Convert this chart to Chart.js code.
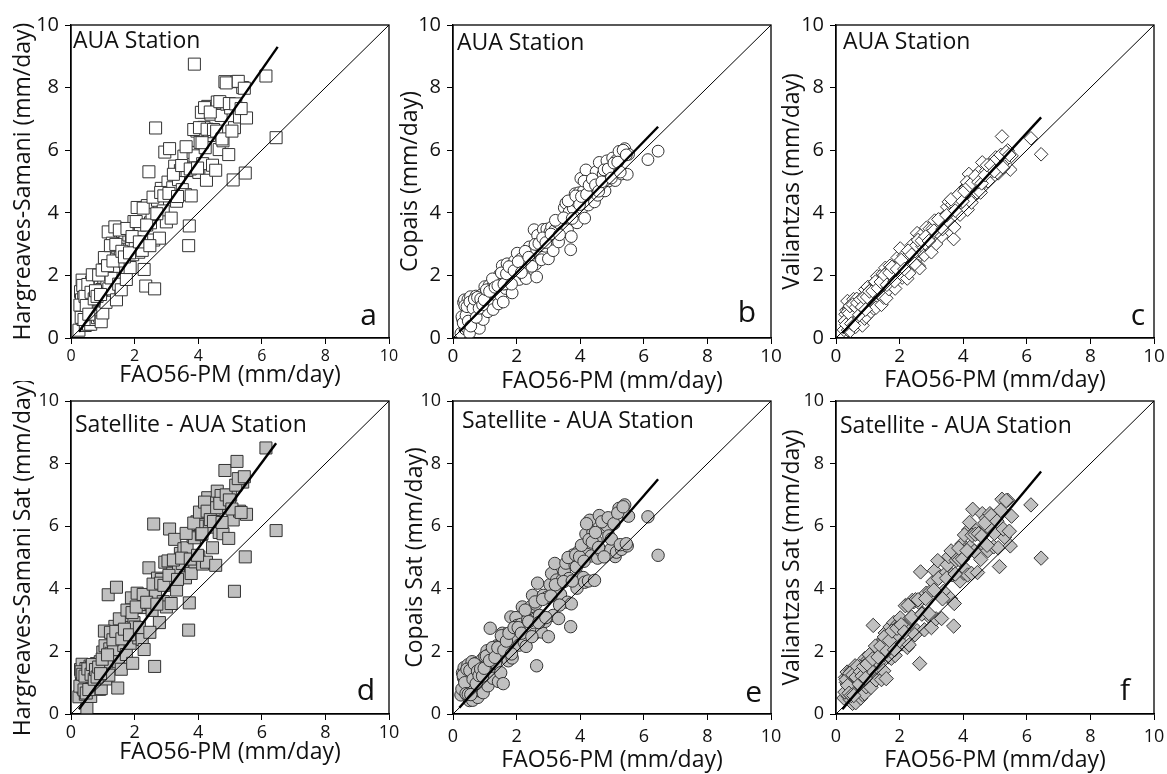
<!DOCTYPE html>
<html>
<head>
<meta charset="utf-8">
<script src="https://cdn.jsdelivr.net/npm/chart.js@4.4.1/dist/chart.umd.min.js"></script>
<style>
  html, body { margin: 0; padding: 0; background: #fff; overflow: hidden; }
  body { width: 1167px; height: 774px; position: relative; }
  .panel { position: absolute; width: 409px; height: 393px; }
</style>
</head>
<body>
<script>
// FAO56-PM reference values (x), shared by all six panels
const fao56 = [
  0.25, 0.30, 0.33, 0.35, 0.36, 0.38, 0.40, 0.42, 0.45, 0.47, 0.50, 0.52, 0.55, 0.57, 0.58, 0.60,
  0.62, 0.65, 0.68, 0.70, 0.72, 0.75, 0.78, 0.80, 0.83, 0.85, 0.88, 0.90, 0.92, 0.95, 0.97, 1.00,
  1.03, 1.07, 1.10, 1.13, 1.17, 1.19, 1.22, 1.26, 1.30, 1.34, 1.38, 1.43, 1.47, 1.50, 1.55, 1.58,
  1.62, 1.66, 1.70, 1.74, 1.78, 1.82, 1.86, 1.90, 1.94, 1.98,
  2.02, 2.08, 2.13, 2.18, 2.24, 2.30, 2.35, 2.40, 2.45, 2.50, 2.55, 2.60, 2.63, 2.66, 2.72, 2.78,
  2.84, 2.90, 2.95, 3.00,
  3.05, 3.10, 3.15, 3.20, 3.26, 3.32, 3.38, 3.44, 3.50, 3.55, 3.60, 3.65, 3.70, 3.72, 3.78, 3.84,
  3.88, 3.90, 3.96,
  4.02, 4.06, 4.10, 4.14, 4.18, 4.22, 4.26, 4.30, 4.35, 4.40, 4.45, 4.50, 4.55, 4.60, 4.66, 4.72,
  4.78, 4.84, 4.90, 4.96, 5.02, 5.10, 5.14, 5.22, 5.30, 5.40, 5.48, 5.52,
  6.13, 6.45,
  0.28, 0.32, 0.37, 0.41, 0.44, 0.48, 0.53, 0.56, 0.63, 0.67, 0.73, 0.77, 0.82, 0.87, 0.93, 0.98,
  1.05, 1.15, 1.24, 1.32, 1.41, 1.52, 1.60, 1.68, 1.76, 1.84, 1.92,
  2.05, 2.15, 2.27, 2.38, 2.48, 2.58, 2.70, 2.82, 2.92,
  3.08, 3.22, 3.35, 3.48, 3.62, 3.75, 3.86, 3.98,
  4.04, 4.12, 4.20, 4.28, 4.38, 4.48, 4.58, 4.68, 4.75, 4.88, 4.98, 5.06, 5.18, 5.26, 5.35, 5.45
];

// estimated method values (y), same order as fao56
const hsStation = [
  0.25, 1.48, 1.22, 1.85, 0.86, 0.59, 1.42, 1.05, 0.40, 1.62, 0.97, 1.40, 0.44, 1.57, 0.88, 1.21,
  0.44, 1.79, 1.13, 1.46, 0.59, 1.73, 1.18, 1.90, 0.65, 1.58, 1.22, 0.70, 1.88, 0.52, 1.55, 0.80,
  1.94, 2.40, 1.14, 1.79, 3.39, 1.57, 2.32, 1.92, 3.03, 2.29, 3.55, 1.22, 2.88, 1.72, 2.60, 1.54,
  3.40, 2.46, 3.22, 1.87, 2.73, 3.29, 2.25, 3.11, 2.66, 3.72,
  3.08, 4.17, 2.74, 3.61, 2.80, 2.19, 1.66, 4.23, 5.31, 3.68, 3.95, 3.13, 1.57, 6.71, 4.40, 3.19,
  4.78, 4.06, 5.94, 3.71,
  4.98, 6.05, 3.83, 4.80, 5.49, 4.37, 5.06, 5.35, 4.74, 5.81, 4.58, 5.35, 2.95, 3.58, 4.54, 5.93,
  8.75, 5.82, 6.61,
  5.29, 6.25, 7.21, 5.57, 6.73, 6.08, 5.04, 7.40, 6.47, 7.15, 5.52, 6.59, 5.36, 7.54, 6.02, 7.11,
  6.30, 8.19, 7.47, 5.86, 7.35, 5.05, 6.72, 8.19, 7.06, 8.00, 5.27, 7.03,
  8.37, 6.40,
  1.05, 0.66, 1.68, 0.59, 1.33, 1.04, 1.71, 0.76, 1.46, 2.02, 1.25, 1.51, 1.33, 2.01, 1.39, 2.17,
  2.57, 2.31, 2.95, 2.46, 2.99, 3.45, 2.77, 2.59, 3.50, 2.72, 3.24,
  3.72, 3.07, 4.15, 3.61, 2.95, 4.50, 3.97, 4.65, 4.54,
  4.62, 5.23, 4.52, 5.51, 6.11, 5.40, 6.66, 5.43,
  6.72, 6.24, 7.36, 6.67, 7.22, 6.66, 6.61, 7.55, 6.36, 8.15, 7.49, 6.61, 7.48, 8.20, 7.33, 7.98
];
const copaisStation = [
  0.15, 0.60, 1.14, 0.46, 1.22, 0.29, 1.01, 0.68, 0.31, 1.23, 1.06, 0.16, 1.32, 0.79, 1.00, 0.52,
  0.74, 1.17, 1.00, 0.57, 1.34, 0.98, 0.51, 1.23, 0.31, 1.08, 0.91, 0.63, 1.40, 0.59, 1.31, 1.64,
  1.17, 1.36, 0.84, 1.67, 1.42, 1.04, 1.62, 0.91, 1.80, 1.39, 1.74, 1.09, 2.03, 1.36, 2.31, 1.15,
  1.99, 1.58, 2.37, 1.71, 2.11, 2.30, 1.44, 2.18, 2.47, 2.06,
  2.71, 1.87, 2.52, 2.37, 1.99, 1.90, 2.75, 2.91, 2.76, 2.41, 3.46, 2.36, 1.95, 3.28, 2.94, 2.50,
  3.47, 2.93, 3.48, 2.53,
  3.39, 3.54, 2.79, 3.44, 3.71, 3.07, 3.63, 3.39, 4.16, 4.31, 3.46, 4.02, 2.82, 3.24, 4.15, 4.61,
  4.36, 3.68, 4.64,
  5.10, 4.14, 4.69, 3.83, 5.37, 4.61, 4.25, 5.00, 4.55, 4.90, 4.35, 5.31, 4.56, 5.61, 4.77, 5.24,
  4.70, 5.66, 5.02, 5.39, 5.75, 5.03, 5.68, 5.96, 5.24, 6.05, 5.23, 5.87,
  5.70, 5.97,
  0.68, 0.48, 1.03, 0.72, 1.00, 0.54, 1.15, 0.38, 0.95, 1.24, 0.66, 1.30, 0.95, 1.25, 1.06, 1.22,
  1.54, 1.49, 1.89, 1.62, 1.67, 2.08, 1.72, 2.05, 2.28, 1.72, 2.15,
  2.44, 2.09, 2.77, 2.58, 2.29, 2.99, 3.02, 3.20, 3.05,
  3.32, 3.76, 3.30, 3.84, 4.38, 3.82, 4.54, 4.26,
  4.52, 5.01, 4.59, 4.88, 5.08, 4.89, 4.69, 4.99, 5.37, 5.40, 5.11, 5.59, 5.62, 5.30, 6.00, 5.85
];
const valiantzasStation = [
  0.26, 0.76, 0.89, 0.52, 1.18, 0.25, 0.92, 0.69, 0.23, 1.05, 0.93, 0.60, 1.24, 0.76, 0.87, 0.64,
  0.36, 1.25, 0.88, 0.60, 1.02, 1.16, 0.54, 1.11, 0.40, 1.02, 0.80, 0.62, 1.55, 0.68, 1.25, 1.63,
  1.17, 1.46, 0.84, 1.58, 1.52, 0.94, 1.78, 0.97, 1.97, 1.41, 1.85, 1.06, 2.05, 1.29, 2.24, 1.27,
  2.12, 1.56, 2.31, 1.70, 2.10, 2.24, 1.58, 2.28, 2.57, 2.12,
  2.86, 1.93, 2.63, 2.54, 1.90, 2.07, 2.82, 2.98, 2.88, 2.49, 3.35, 2.30, 2.23, 3.27, 2.93, 2.65,
  3.52, 2.93, 3.49, 2.74,
  3.50, 3.75, 3.01, 3.46, 3.78, 3.25, 3.86, 3.58, 4.19, 4.35, 3.65, 4.26, 3.16, 3.54, 4.20, 4.57,
  4.61, 3.94, 4.70,
  4.57, 4.21, 4.81, 4.10, 5.24, 4.59, 4.33, 4.98, 4.83, 5.04, 4.64, 5.30, 4.65, 5.61, 4.97, 5.34,
  5.01, 5.57, 5.34, 5.61, 5.77, 5.26, 5.80, 6.44, 5.48, 5.99, 5.38, 5.82,
  6.38, 5.87,
  0.54, 0.43, 0.84, 0.78, 1.02, 0.46, 1.07, 0.40, 0.98, 1.12, 0.74, 1.23, 0.99, 1.29, 0.91, 1.31,
  1.49, 1.50, 1.80, 1.59, 1.79, 2.01, 1.70, 2.08, 2.27, 1.81, 2.20,
  2.49, 2.20, 2.79, 2.66, 2.37, 3.13, 3.11, 3.24, 3.10,
  3.43, 3.79, 3.48, 3.92, 4.43, 4.07, 4.59, 4.37,
  4.69, 4.98, 4.87, 4.96, 5.17, 4.98, 4.94, 5.20, 5.52, 5.52, 5.33, 5.72, 5.85, 5.44, 5.94, 5.85
];
const hsSat = [
  0.55, 1.42, 1.26, 1.59, 1.20, 0.83, 1.16, 1.04, 0.63, 1.45, 0.18, 1.22, 1.06, 1.19, 0.90, 1.53,
  0.56, 1.50, 1.14, 0.97, 1.50, 1.24, 0.88, 1.61, 0.80, 1.48, 1.12, 0.79, 1.67, 0.81, 1.44, 1.98,
  1.62, 2.18, 1.12, 1.66, 3.81, 1.24, 2.08, 1.94, 2.59, 2.05, 2.80, 4.05, 0.83, 1.67, 2.54, 1.43,
  2.63, 2.19, 2.94, 1.90, 3.15, 2.61, 2.26, 3.71, 1.62, 2.92,
  2.78, 3.86, 2.43, 3.40, 2.38, 2.06, 3.73, 3.50, 4.67, 3.54, 3.31, 6.07, 1.52, 3.86, 4.34, 2.92,
  4.30, 3.59, 4.85, 3.42,
  4.89, 5.91, 3.53, 4.50, 5.58, 3.96, 4.64, 5.13, 4.81, 5.28, 4.35, 5.31, 2.68, 3.55, 4.49, 5.67,
  5.63, 4.86, 6.14,
  5.02, 6.08, 5.73, 4.79, 6.44, 6.00, 4.85, 6.91, 5.97, 6.54, 5.31, 6.38, 4.75, 7.12, 5.80, 6.98,
  5.76, 7.78, 6.63, 5.61, 6.99, 6.20, 3.92, 8.07, 6.48, 7.41, 5.02, 6.38,
  8.50, 5.86,
  0.89, 1.35, 1.27, 0.77, 1.21, 0.67, 1.44, 0.78, 1.27, 1.58, 1.11, 1.42, 1.18, 1.50, 1.29, 1.75,
  2.65, 1.89, 2.61, 2.37, 2.64, 3.04, 2.40, 2.71, 3.32, 2.53, 3.24,
  3.42, 2.76, 3.82, 3.57, 2.61, 4.15, 3.51, 4.18, 4.11,
  4.43, 4.92, 4.30, 4.98, 5.77, 4.95, 6.10, 5.07,
  6.45, 5.76, 6.77, 6.48, 6.21, 6.15, 6.59, 6.73, 6.12, 7.00, 6.84, 6.55, 7.31, 7.52, 6.44, 7.58
];
const copaisSat = [
  0.61, 1.32, 1.16, 1.48, 1.09, 0.71, 1.34, 0.96, 0.60, 1.57, 0.90, 0.43, 1.41, 1.24, 0.95, 1.67,
  0.44, 1.33, 1.21, 0.69, 1.61, 1.15, 0.53, 1.20, 0.74, 1.51, 1.20, 0.72, 1.74, 0.68, 1.50, 1.84,
  1.47, 2.02, 0.90, 1.89, 2.74, 1.26, 1.89, 1.14, 2.09, 1.63, 2.18, 1.04, 2.19, 1.32, 2.58, 0.97,
  2.26, 1.81, 2.56, 1.70, 2.35, 3.10, 1.79, 2.39, 2.74, 3.08,
  2.83, 2.20, 2.86, 3.42, 2.29, 2.16, 3.01, 3.37, 3.43, 3.79, 2.55, 3.51, 1.54, 4.18, 3.15, 2.62,
  3.79, 2.96, 3.72, 2.47,
  4.13, 4.49, 3.15, 4.81, 4.28, 3.05, 3.82, 4.29, 4.56, 4.82, 3.57, 4.33, 2.79, 3.52, 5.08, 4.75,
  4.70, 4.02, 5.20,
  4.37, 5.21, 4.36, 4.21, 5.75, 5.10, 4.25, 6.19, 5.05, 5.81, 4.27, 5.53, 4.98, 6.34, 5.21, 5.98,
  5.15, 6.02, 5.69, 5.26, 6.23, 5.03, 5.17, 6.57, 5.26, 6.68, 5.37, 6.32,
  6.30, 5.07,
  0.80, 1.24, 1.00, 0.65, 1.43, 0.63, 1.39, 0.62, 1.11, 1.60, 0.97, 1.37, 1.23, 1.44, 1.21, 1.46,
  1.85, 1.71, 2.12, 1.81, 2.12, 2.50, 2.04, 2.33, 2.58, 1.92, 2.76,
  2.76, 2.58, 3.32, 2.95, 2.47, 3.58, 2.92, 3.66, 3.08,
  3.77, 4.13, 3.48, 4.23, 5.00, 4.25, 5.08, 5.02,
  5.39, 4.88, 6.08, 5.57, 5.49, 5.80, 5.32, 6.14, 5.02, 6.27, 5.59, 6.08, 6.42, 5.41, 6.62, 5.44
];
const valiantzasSat = [
  0.51, 1.17, 1.01, 1.34, 0.95, 0.57, 1.20, 0.87, 0.46, 1.38, 0.82, 0.34, 1.33, 1.10, 0.87, 1.54,
  0.36, 1.40, 1.04, 0.96, 1.39, 1.22, 0.51, 1.38, 0.62, 1.34, 0.98, 0.65, 1.78, 0.87, 1.39, 1.73,
  1.46, 1.91, 0.85, 1.78, 2.83, 1.16, 1.99, 1.09, 2.19, 1.64, 2.09, 1.10, 2.30, 1.38, 2.59, 1.13,
  2.28, 1.83, 2.78, 1.78, 2.37, 2.92, 1.87, 2.52, 2.87, 2.82,
  3.07, 2.24, 2.80, 3.46, 2.13, 2.21, 3.07, 3.63, 3.59, 3.65, 2.66, 3.57, 1.61, 4.54, 3.22, 2.69,
  3.86, 3.14, 3.90, 2.76,
  4.22, 4.58, 3.04, 4.90, 4.37, 3.05, 3.92, 4.49, 4.77, 5.03, 3.69, 4.45, 2.81, 3.53, 4.91, 4.98,
  4.93, 4.25, 5.43,
  4.50, 5.25, 4.60, 4.44, 5.89, 5.34, 4.49, 6.54, 5.20, 5.86, 4.52, 5.78, 4.94, 6.40, 5.38, 6.25,
  5.22, 6.40, 5.87, 5.34, 6.21, 5.31, 4.71, 6.86, 5.65, 6.83, 5.37, 6.32,
  6.68, 4.98,
  0.70, 1.10, 0.91, 0.66, 1.30, 0.59, 1.25, 0.59, 1.18, 1.52, 0.95, 1.35, 1.21, 1.52, 1.14, 1.60,
  1.89, 1.76, 2.17, 1.82, 2.17, 2.46, 2.01, 2.35, 2.65, 2.05, 2.74,
  2.85, 2.62, 3.47, 3.10, 2.53, 3.65, 3.19, 3.69, 3.21,
  3.96, 4.33, 3.68, 4.34, 5.21, 4.47, 5.30, 4.95,
  5.72, 5.22, 6.12, 5.71, 5.74, 5.76, 5.68, 6.10, 5.39, 6.34, 5.77, 6.16, 6.51, 5.91, 6.82, 5.84
];

// regression line end points [x0, y0, x1, y1]
const fitHsStation = [0.25, 0.20, 6.50, 9.30];
const fitCopaisStation = [0.20, 0.20, 6.45, 6.75];
const fitValiantzasStation = [0.20, 0.15, 6.45, 7.05];
const fitHsSat = [0.25, 0.15, 6.45, 8.65];
const fitCopaisSat = [0.20, 0.20, 6.45, 7.50];
const fitValiantzasSat = [0.20, 0.15, 6.45, 7.75];

// 1:1 line
const oneToOne = [0, 0, 10, 10];

const xTitle = 'FAO56-PM (mm/day)';

const panels = [
  { left: 71,  top: 25,  y: hsStation, fit: fitHsStation, yTitle: 'Hargreaves-Samani (mm/day)',
    station: 'AUA Station', letter: 'a', marker: 'rect', radius: 8.5, fill: '#ffffff',
    yTick: 20, xTick: 16, xPad: 3, xtp: 9, ytp: 10, sx: 2, sy: 23, lx: 12, ly: 13 },
  { left: 453, top: 25,  y: copaisStation, fit: fitCopaisStation, yTitle: 'Copais (mm/day)',
    station: 'AUA Station', letter: 'b', marker: 'circle', radius: 5.9, fill: '#ffffff',
    yTick: 20, xTick: 19, xPad: 1.5, xtp: 3, ytp: 15, sx: 4, sy: 25, lx: 15, ly: 16 },
  { left: 836, top: 25,  y: valiantzasStation, fit: fitValiantzasStation, yTitle: 'Valiantzas (mm/day)',
    station: 'AUA Station', letter: 'c', marker: 'rectRot', radius: 6.8, fill: '#ffffff',
    yTick: 20, xTick: 19, xPad: 1.5, xtp: 4, ytp: 14, sx: 7, sy: 24, lx: 9, ly: 13 },
  { left: 71,  top: 401, y: hsSat, fit: fitHsSat, yTitle: 'Hargreaves-Samani Sat (mm/day)',
    station: 'Satellite - AUA Station', letter: 'd', marker: 'rect', radius: 8.5, fill: '#c0c0c0',
    yTick: 18, xTick: 18, xPad: 2, xtp: 8, ytp: 10, sx: 4, sy: 31, lx: 14, ly: 14 },
  { left: 453, top: 401, y: copaisSat, fit: fitCopaisSat, yTitle: 'Copais Sat (mm/day)',
    station: 'Satellite - AUA Station', letter: 'e', marker: 'circle', radius: 6.2, fill: '#c0c0c0',
    yTick: 18, xTick: 18, xPad: 6, xtp: 0, ytp: 20, sx: 9, sy: 27, lx: 9, ly: 12 },
  { left: 836, top: 401, y: valiantzasSat, fit: fitValiantzasSat, yTitle: 'Valiantzas Sat (mm/day)',
    station: 'Satellite - AUA Station', letter: 'f', marker: 'rectRot', radius: 7.2, fill: '#c0c0c0',
    yTick: 18, xTick: 18, xPad: 6, xtp: 0, ytp: 14, sx: 4, sy: 32, lx: 24, ly: 14 }
];

const FONT = '"Open Sans", "Noto Sans", sans-serif';

// frame on all four sides + station label + panel letter
const panelText = {
  id: 'panelText',
  afterDatasetsDraw(chart, args, opts) {
    const { ctx, chartArea: a } = chart;
    ctx.save();
    ctx.strokeStyle = '#000';
    ctx.lineWidth = 1.3;
    ctx.strokeRect(a.left, a.top, a.right - a.left, a.bottom - a.top);
    ctx.fillStyle = '#111';
    ctx.textBaseline = 'alphabetic';
    ctx.font = '23px ' + FONT;
    ctx.textAlign = 'left';
    ctx.fillText(opts.station, a.left + opts.sx, a.top + opts.sy);
    ctx.font = '30px ' + FONT;
    ctx.textAlign = 'right';
    ctx.fillText(opts.letter, a.right - opts.lx, a.bottom - opts.ly);
    ctx.restore();
  }
};

function segment(arr) {
  return [{ x: arr[0], y: arr[1] }, { x: arr[2], y: arr[3] }];
}

function makePanel(p) {
  const div = document.createElement('div');
  div.className = 'panel';
  div.style.left = (p.left - 71) + 'px';
  div.style.top = (p.top - 20) + 'px';
  const canvas = document.createElement('canvas');
  div.appendChild(canvas);
  document.body.appendChild(div);

  const points = fao56.map((x, i) => ({ x, y: p.y[i] }));

  new Chart(canvas, {
    type: 'scatter',
    data: {
      datasets: [
        { data: segment(p.fit), showLine: true, borderColor: '#000', borderWidth: 2.4, pointRadius: 0 },
        { data: segment(oneToOne), showLine: true, borderColor: '#000', borderWidth: 1, pointRadius: 0 },
        { data: points, pointStyle: p.marker, pointRadius: p.radius, backgroundColor: p.fill,
          borderColor: '#333', borderWidth: 1 }
      ]
    },
    options: {
      responsive: true,
      maintainAspectRatio: false,
      animation: false,
      layout: { padding: { top: 20, right: 20, left: 0, bottom: 0 } },
      plugins: {
        legend: { display: false },
        tooltip: { enabled: false },
        panelText: { station: p.station, letter: p.letter, sx: p.sx, sy: p.sy, lx: p.lx, ly: p.ly }
      },
      scales: {
        x: {
          type: 'linear', min: 0, max: 10,
          afterFit: s => { s.height = 60; },
          border: { display: true, color: '#000', width: 1.3 },
          grid: { drawOnChartArea: false, drawTicks: true, tickLength: 6, color: '#000' },
          ticks: { stepSize: 2, autoSkip: false, maxRotation: 0, padding: p.xPad, color: '#111',
                   font: { family: FONT, size: p.xTick } },
          title: { display: true, text: xTitle, color: '#111', padding: { top: 0, bottom: p.xtp },
                   font: { family: FONT, size: 23 } }
        },
        y: {
          type: 'linear', min: 0, max: 10,
          afterFit: s => { s.width = 71; },
          border: { display: true, color: '#000', width: 1.3 },
          grid: { drawOnChartArea: false, drawTicks: true, tickLength: 6, color: '#000' },
          ticks: { stepSize: 2, autoSkip: false, padding: 6, color: '#111',
                   font: { family: FONT, size: p.yTick } },
          title: { display: true, text: p.yTitle, color: '#111', padding: { top: p.ytp, bottom: 0 },
                   font: { family: FONT, size: 23 } }
        }
      }
    },
    plugins: [panelText]
  });
}

panels.forEach(makePanel);
</script>
</body>
</html>
